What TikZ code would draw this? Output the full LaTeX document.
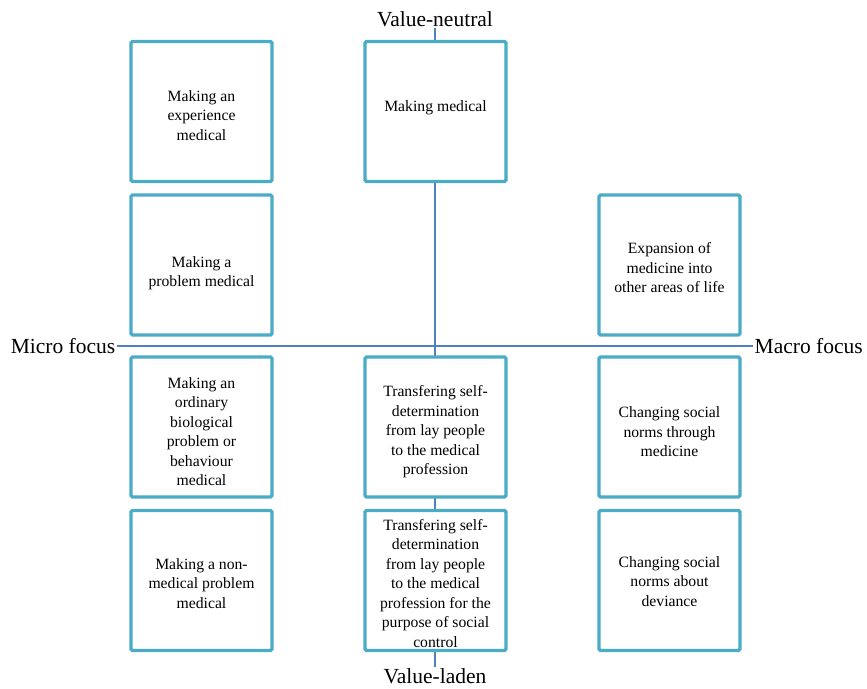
\documentclass[tikz,border=0pt]{standalone}
\usepackage{fontspec}
\setmainfont{Liberation Serif}
\definecolor{boxcol}{HTML}{4BACC6}
\definecolor{axiscol}{HTML}{4F81BD}
\tikzset{
  box/.style={draw=boxcol, line width=3.4pt, fill=white, rounded corners=1.5pt,
    minimum width=141pt, minimum height=140pt, inner sep=0pt},
  txt/.style={align=center, font=\fontsize{15.7pt}{19.5pt}\selectfont, inner sep=0pt},
  axlabel/.style={font=\fontsize{21.5pt}{25pt}\selectfont, inner sep=1.5pt},
  axis/.style={draw=axiscol, line width=1.4pt}
}
\begin{document}
\begin{tikzpicture}[x=1pt,y=-1pt]
\useasboundingbox (0,0) rectangle (867,688);
% axis labels
\node[axlabel] (vn) at (435,19) {Value-neutral};
\node[axlabel] (vl) at (435,676) {Value-laden};
\node[axlabel, anchor=east] (mi) at (117,346) {Micro focus};
\node[axlabel, anchor=west] (ma) at (753,346) {Macro focus};
% axes
\draw[axis] (vn.south) -- (vl.north);
\draw[axis] (mi.east) -- (ma.west);
% boxes
\node[box] (b11) at (201.5,111.5) {};
\node[box] (b21) at (201.5,265) {};
\node[box] (b31) at (201.5,427) {};
\node[box] (b41) at (201.5,580.5) {};
\node[box] (b12) at (435.5,111.5) {};
\node[box] (b32) at (435.5,427) {};
\node[box] (b42) at (435.5,580.5) {};
\node[box] (b23) at (669.5,265) {};
\node[box] (b33) at (669.5,427) {};
\node[box] (b43) at (669.5,580.5) {};
% texts
\node[txt] (t11) at ([yshift=-4pt]b11.center) {Making an\\experience\\medical};
\node[txt] (t21) at ([yshift=-8pt]b21.center) {Making a\\problem medical};
\node[txt] (t31) at ([yshift=-4.5pt]b31.center) {Making an\\ordinary\\biological\\problem or\\behaviour\\medical};
\node[txt] (t41) at ([yshift=-3pt]b41.center) {Making a non-\\medical problem\\medical};
\node[txt] (t12) at ([yshift=4pt]b12.center) {Making medical};
\node[txt] (t32) at ([yshift=-5pt]b32.center) {Transfering self-\\determination\\from lay people\\to the medical\\profession};
\node[txt] (t42) at ([yshift=-3pt]b42.center) {Transfering self-\\determination\\from lay people\\to the medical\\profession for the\\purpose of social\\control};
\node[txt] (t23) at ([yshift=-3pt]b23.center) {Expansion of\\medicine into\\other areas of life};
\node[txt] (t33) at ([yshift=-5pt]b33.center) {Changing social\\norms through\\medicine};
\node[txt] (t43) at ([yshift=-1pt]b43.center) {Changing social\\norms about\\deviance};
\end{tikzpicture}
\end{document}
